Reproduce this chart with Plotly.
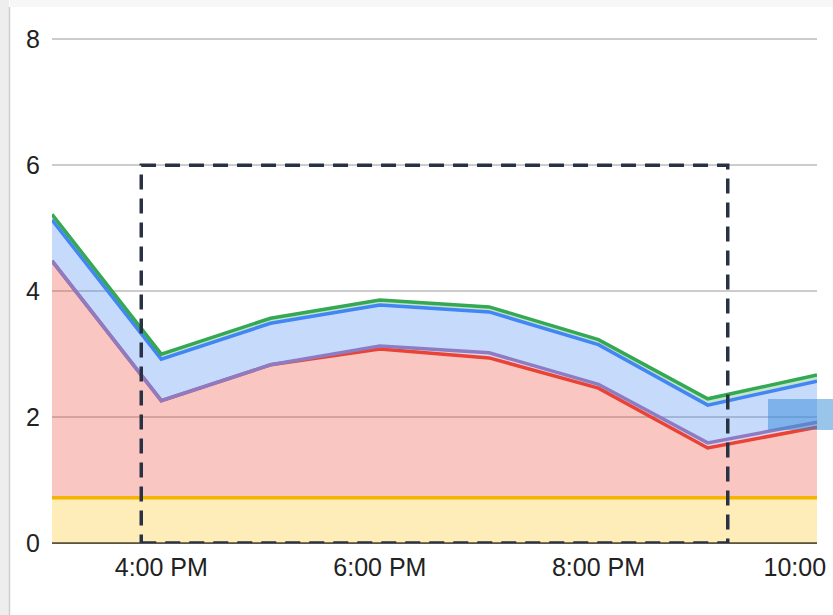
import plotly.graph_objects as go

# ---- data ----
times = ["2024-01-01 15:00", "2024-01-01 16:00", "2024-01-01 17:00", "2024-01-01 18:00",
         "2024-01-01 19:00", "2024-01-01 20:00", "2024-01-01 21:00", "2024-01-01 22:00"]
yellow_vals = [0.72, 0.72, 0.72, 0.72, 0.72, 0.72, 0.72, 0.72]
red_vals    = [3.76, 1.54, 2.11, 2.36, 2.22, 1.74, 0.79, 1.12]
purple_vals = [0.00, 0.00, 0.00, 0.05, 0.08, 0.06, 0.08, 0.08]
blue_vals   = [0.65, 0.66, 0.66, 0.65, 0.65, 0.63, 0.60, 0.65]
green_vals  = [0.09, 0.08, 0.08, 0.08, 0.08, 0.08, 0.10, 0.10]

y_ticks = [0, 2, 4, 6, 8]
x_tick_start = "2024-01-01 16:00"

# highlight box (data coordinates)
box_x = ["2024-01-01 15:49", "2024-01-01 21:11"]
box_y = [0, 6]

series = [
    ("Yellow", yellow_vals, "#F4B400", "rgba(251,188,4,0.28)"),
    ("Red", red_vals, "#EA4335", "rgba(234,67,53,0.30)"),
    ("Purple", purple_vals, "#8E7CC3", "rgba(142,124,195,0.30)"),
    ("Blue", blue_vals, "#4285F4", "rgba(66,133,244,0.30)"),
    ("Green", green_vals, "#34A853", "rgba(52,168,83,0.30)"),
]

fig = go.Figure()
for name, vals, lc, fc in series:
    fig.add_trace(go.Scatter(
        x=times, y=vals, name=name, mode="lines", stackgroup="s",
        line=dict(color=lc, width=3.5), fillcolor=fc, hoverinfo="skip",
    ))

W, H = 833, 615
L, R, T, B = 52, 16, 33, 72
pw, ph = W - L - R, H - T - B


def px(p):
    return (p - L) / pw


def py(p):
    return (H - B - p) / ph


shapes = [
    # dashed highlight box
    dict(type="rect", xref="x", yref="y", x0=box_x[0], x1=box_x[1], y0=box_y[0], y1=box_y[1],
         line=dict(color="#283244", width=3.5, dash="15px,9px"), fillcolor="rgba(0,0,0,0)"),
    # small blue selection marker at right edge
    dict(type="rect", xref="paper", yref="paper", x0=px(768), x1=px(840), y0=py(430), y1=py(399),
         line=dict(width=0), fillcolor="rgba(52,140,215,0.5)"),
    # card shadow left
    dict(type="rect", xref="paper", yref="paper", x0=px(-2), x1=px(9), y0=py(-2), y1=py(620),
         line=dict(width=0), fillcolor="#eeeeee"),
    dict(type="line", xref="paper", yref="paper", x0=px(9.5), x1=px(9.5), y0=py(7), y1=py(620),
         line=dict(color="#cfcfcf", width=1.5)),
    # card shadow top
    dict(type="rect", xref="paper", yref="paper", x0=px(10), x1=px(840), y0=py(7), y1=py(-2),
         line=dict(width=0), fillcolor="#f7f7f7"),
]

fig.update_layout(
    width=W, height=H,
    margin=dict(l=L, r=R, t=T, b=B, autoexpand=False),
    paper_bgcolor="white", plot_bgcolor="white",
    showlegend=False,
    font=dict(family="Liberation Sans, Arial, sans-serif", size=25, color="#222222"),
    shapes=shapes,
    xaxis=dict(
        type="date", range=[times[0], times[-1]],
        tick0=x_tick_start, dtick=2 * 3600 * 1000, tickformat="%-I:%M %p",
        showgrid=False, showline=False, zeroline=False, ticks="",
        ticklabelstandoff=7, ticklabeloverflow="allow", automargin=False,
    ),
    yaxis=dict(
        range=[0, 8.1], tickvals=y_ticks, showgrid=True, gridcolor="#cccccc", gridwidth=1.5,
        zeroline=True, zerolinecolor="#555555", zerolinewidth=2,
        showline=False, ticks="", ticklabelstandoff=11, automargin=False,
    ),
)

fig.write_html(
    "out.html",
    config={"displayModeBar": False, "responsive": False},
    post_script="document.body.style.margin='0px';document.body.style.overflow='hidden';",
)
